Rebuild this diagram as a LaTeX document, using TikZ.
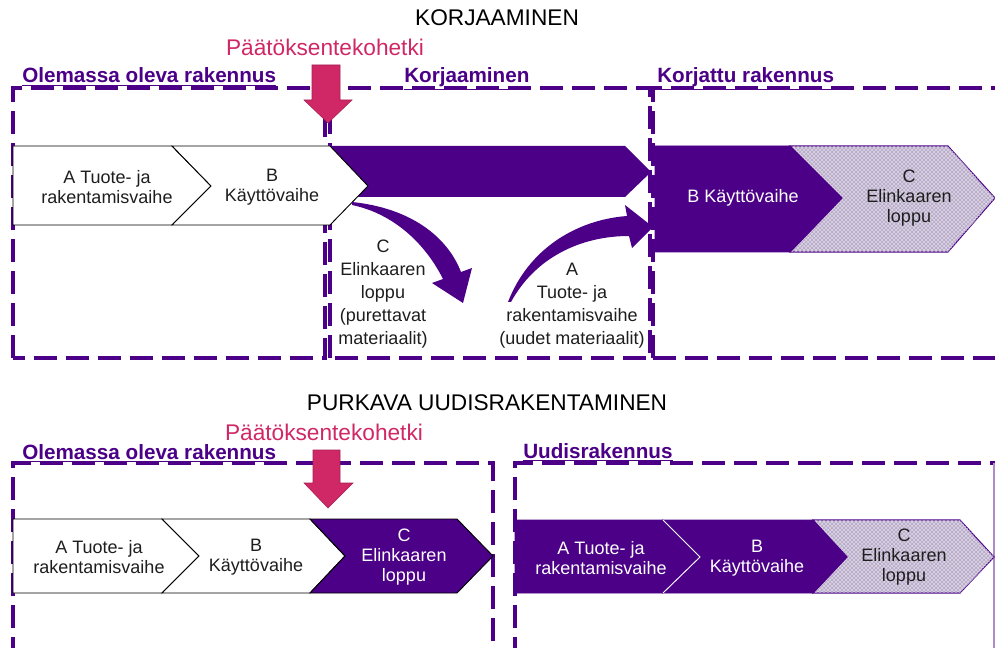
\documentclass[tikz,border=0pt]{standalone}
\usepackage{fontspec}
\setmainfont{Liberation Sans}
\usetikzlibrary{patterns}
\definecolor{purp}{RGB}{75,0,135}
\definecolor{pink}{RGB}{208,40,102}
\definecolor{txt}{RGB}{30,30,30}
\definecolor{hatchbg}{RGB}{218,211,226}
\definecolor{hatchln}{RGB}{180,166,200}
\tikzset{
  boxline/.style={draw=purp, line width=2.5pt, dash pattern=on 17pt off 7pt},
  whitechev/.style={fill=white, draw=black, line width=0.7pt},
  purpchev/.style={fill=purp, draw=purp, line width=0.7pt},
  hatchchev/.style={fill=hatchbg, postaction={pattern=crosshatch, pattern color=hatchln}, draw=purp, line width=0.8pt},
  pinkarrow/.style={fill=pink, draw=pink!80!black, line width=0.4pt},
  boxlabel/.style={anchor=base west, inner sep=0pt, text=purp, font=\fontsize{15.5}{18}\selectfont\bfseries},
  title/.style={inner sep=0pt, text=black, font=\fontsize{17}{20}\selectfont},
  decision/.style={inner sep=0pt, text=pink, font=\fontsize{17}{20}\selectfont},
  steptext/.style={inner sep=0pt, align=center, text=txt, font=\fontsize{13.5}{15}\selectfont},
  widetext/.style={inner sep=0pt, align=center, text=txt, font=\fontsize{13.5}{17.2}\selectfont},
}
\begin{document}
\begin{tikzpicture}[x=0.75pt,y=-0.75pt]
\useasboundingbox (0,0) rectangle (995,648);
\fill[white] (0,0) rectangle (995,648);
\begin{scope}
\clip (0,0) rectangle (995,648);
% ---------- KORJAAMINEN ----------
\node[title] (t1) at (497,18) {KORJAAMINEN};
\node[decision] (d1) at (325,47) {Päätöksentekohetki};
\node[boxlabel] (l1) at (22,83) {\underline{Olemassa oleva rakennus}};
\node[boxlabel] (l2) at (404,83) {\underline{Korjaaminen}};
\node[boxlabel] (l3) at (657,83) {\underline{Korjattu rakennus}};
% boxes
\draw[boxline] (13,358) -- (13,88) -- (325,88) -- (325,358) -- cycle;
\draw[boxline] (330,358) -- (330,88) -- (650,88) -- (650,358) -- cycle;
\draw[boxline] (653,358) -- (653,88) -- (1010,88);
\draw[boxline] (653,358) -- (1010,358);
% purple band
\fill[purp] (330,146) -- (625,146) -- (651,172) -- (625,197) -- (340,197) -- cycle;
% chevrons
\draw[whitechev] (13,146) -- (172,146) -- (211,186) -- (172,225) -- (13,225) -- cycle;
\draw[whitechev] (172,146) -- (330,146) -- (368,186) -- (330,225) -- (172,225) -- (211,186) -- cycle;
\node[steptext] (ta1) at (107,187) {A Tuote- ja\\rakentamisvaihe};
\node[steptext] (tb1) at (272,187) {B\\Käyttövaihe};
% curved arrows
\fill[purp] (352,202) .. controls (410,208) and (447,236) .. (461,272)
  -- (472,268) -- (463,303) -- (432,283) -- (443,279)
  .. controls (426,245) and (395,214) .. (352,205) -- cycle;
\fill[purp] (508,302) .. controls (528,250) and (575,220) .. (627,216)
  -- (625,205) -- (653,227) -- (632,248) -- (629,236)
  .. controls (580,236) and (535,258) .. (511,302) -- cycle;
\node[widetext] (tc2) at (383,294) {C\\Elinkaaren\\loppu\\(purettavat\\materiaalit)};
\node[widetext] (ta2) at (572,306) {A\\Tuote- ja\\rakentamisvaihe\\(uudet materiaalit)};
% right chevrons
\draw[hatchchev] (790,146) -- (948,146) -- (995,198) -- (948,252) -- (790,252) -- (842,198) -- cycle;
\draw[purpchev] (655,146) -- (790,146) -- (842,198) -- (790,252) -- (655,252) -- cycle;
\node[steptext, text=white] (tb3) at (743,198) {B Käyttövaihe};
\node[steptext] (tc3) at (909,198) {C\\Elinkaaren\\loppu};
% decision arrow
\draw[pinkarrow] (312,65) -- (340,65) -- (340,100) -- (352,100) -- (328,123) -- (304,100) -- (312,100) -- cycle;
% ---------- PURKAVA UUDISRAKENTAMINEN ----------
\node[title] (t2) at (487,403) {PURKAVA UUDISRAKENTAMINEN};
\node[decision] (d2) at (324,432) {Päätöksentekohetki};
\node[boxlabel] (l4) at (22,459) {\underline{Olemassa oleva rakennus}};
\node[boxlabel] (l5) at (523,458) {\underline{Uudisrakennus}};
\draw[boxline] (13,660) -- (13,463) -- (493,463) -- (493,660);
\draw[boxline] (515,660) -- (515,463) -- (1010,463);
\draw[purp!45, line width=0.8pt] (994,463) -- (994,648);
% left chevrons
\draw[whitechev] (13,519) -- (162,519) -- (199,556) -- (162,593) -- (13,593) -- cycle;
\draw[whitechev] (162,519) -- (310,519) -- (345,556) -- (310,593) -- (162,593) -- (199,556) -- cycle;
\draw[fill=purp, draw=black, line width=0.7pt] (310,519) -- (457,519) -- (493,556) -- (457,593) -- (310,593) -- (345,556) -- cycle;
\node[steptext] (ta4) at (99,557) {A Tuote- ja\\rakentamisvaihe};
\node[steptext] (tb4) at (256,557) {B\\Käyttövaihe};
\node[steptext, text=white] (tc4) at (404,557) {C\\Elinkaaren\\loppu};
% right chevrons
\draw[hatchchev] (813,520) -- (960,520) -- (994,557) -- (960,593) -- (813,593) -- (847,557) -- cycle;
\draw[purpchev] (663,520) -- (813,520) -- (847,557) -- (813,593) -- (663,593) -- (700,557) -- cycle;
\draw[purpchev] (515,520) -- (663,520) -- (700,557) -- (663,593) -- (515,593) -- cycle;
\draw[white, line width=0.7pt] (663,520) -- (700,557) -- (663,593);
\node[steptext, text=white] (ta5) at (601,558) {A Tuote- ja\\rakentamisvaihe};
\node[steptext, text=white] (tb5) at (757,558) {B\\Käyttövaihe};
\node[steptext] (tc5) at (904,557) {C\\Elinkaaren\\loppu};
\draw[pinkarrow] (313,450) -- (340,450) -- (340,483) -- (353,483) -- (328,508) -- (304,483) -- (313,483) -- cycle;
\end{scope}
\end{tikzpicture}
\end{document}
